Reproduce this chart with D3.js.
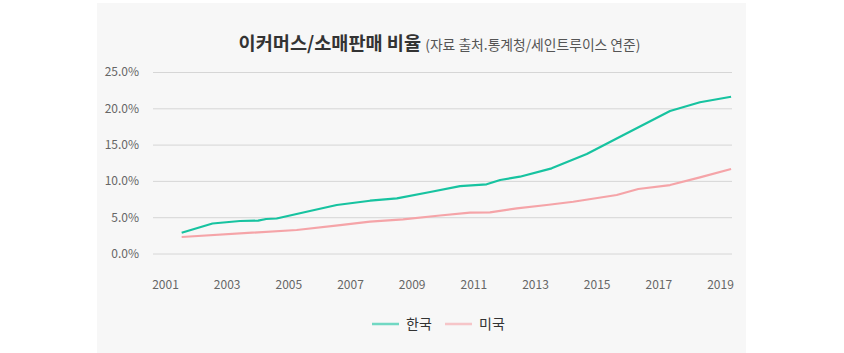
<!DOCTYPE html>
<html>
<head>
<meta charset="utf-8">
<script src="https://cdn.jsdelivr.net/npm/d3@7"></script>
<style>
  body { margin: 0; background: #fff; }
  svg text { font-family: "Noto Sans CJK KR", "Noto Sans", sans-serif; }
</style>
</head>
<body>
<div id="chart"></div>
<script>
// Chart size
const width = 844;
const height = 353;

// Data: fractional years and percent shares
const koreaYears = [2001.54, 2002.54, 2003.43, 2004.02, 2004.28, 2004.62, 2005.70, 2006.57, 2007.65, 2008.52,
  2009.60, 2010.57, 2011.43, 2011.87, 2012.51, 2013.54, 2014.68, 2015.76, 2017.38, 2018.35, 2019.36];
const koreaValues = [2.86, 4.13, 4.48, 4.52, 4.75, 4.82, 5.85, 6.68, 7.27, 7.60,
  8.47, 9.29, 9.53, 10.12, 10.58, 11.73, 13.70, 16.08, 19.62, 20.83, 21.59];
const usYears = [2001.54, 2005.27, 2006.68, 2007.65, 2008.72, 2009.92, 2010.89, 2011.54, 2012.41, 2013.38,
  2014.24, 2015.65, 2016.35, 2017.38, 2018.35, 2019.36];
const usValues = [2.27, 3.24, 3.92, 4.38, 4.71, 5.23, 5.62, 5.67, 6.22, 6.68,
  7.13, 8.06, 8.88, 9.43, 10.49, 11.64];
const yearTicks = [2001, 2003, 2005, 2007, 2009, 2011, 2013, 2015, 2017, 2019];
const percentTicks = [0, 5, 10, 15, 20, 25];
const seriesNames = ['한국', '미국'];
const seriesColors = ['#17c3a0', '#f5a4a8'];

const svg = d3.select('#chart')
  .append('svg')
  .attr('width', width)
  .attr('height', height);

// Gray panel
svg.append('rect')
  .attr('x', 97).attr('y', 3)
  .attr('width', 649).attr('height', 350)
  .attr('fill', '#f7f7f7');

// Scales
const xScale = d3.scaleLinear()
  .domain([2000.61, 2019.39])
  .range([153, 732]);

const yScale = d3.scaleLinear()
  .domain([0, 25])
  .range([253.5, 72]);

// Title
const title = svg.append('text')
  .attr('x', 439.5)
  .attr('y', 50)
  .attr('text-anchor', 'middle');
title.append('tspan')
  .attr('font-size', 18.6)
  .attr('font-weight', 'bold')
  .attr('fill', '#333')
  .text('이커머스/소매판매 비율 ');
title.append('tspan')
  .attr('font-size', 13.8)
  .attr('fill', '#555')
  .text('(자료 출처.통계청/세인트루이스 연준)');

// Y axis with gridlines
const yAxis = d3.axisLeft(yScale)
  .tickValues(percentTicks)
  .tickSize(-(732 - 153))
  .tickPadding(14)
  .tickFormat(d => d.toFixed(1) + '%');

svg.append('g')
  .attr('transform', 'translate(153,0)')
  .call(yAxis)
  .call(g => g.select('.domain').remove())
  .call(g => g.selectAll('.tick line').attr('stroke', '#d6d6d6').attr('stroke-width', 1))
  .call(g => g.selectAll('.tick text').attr('fill', '#666').attr('font-size', 12)
    .attr('font-family', '"Noto Sans CJK KR", sans-serif'));

// X axis
const xAxis = d3.axisBottom(xScale)
  .tickValues(yearTicks)
  .tickSize(0)
  .tickPadding(0)
  .tickFormat(d3.format('d'));

svg.append('g')
  .attr('transform', 'translate(0,280)')
  .call(xAxis)
  .call(g => g.select('.domain').remove())
  .call(g => g.selectAll('.tick text').attr('fill', '#666').attr('font-size', 12)
    .attr('font-family', '"Noto Sans CJK KR", sans-serif'));

// Lines
const line = d3.line()
  .x(d => xScale(d[0]))
  .y(d => yScale(d[1]));

const series = [
  d3.zip(koreaYears, koreaValues),
  d3.zip(usYears, usValues)
];

svg.selectAll('.series')
  .data(series)
  .enter()
  .append('path')
  .attr('class', 'series')
  .attr('d', line)
  .attr('fill', 'none')
  .attr('stroke', (d, i) => seriesColors[i])
  .attr('stroke-width', 2.2)
  .attr('stroke-linejoin', 'round');

// Legend
const legendX = [372, 445];
const legend = svg.selectAll('.legend')
  .data(seriesNames)
  .enter()
  .append('g')
  .attr('class', 'legend')
  .attr('transform', (d, i) => `translate(${legendX[i]},324)`);

legend.append('line')
  .attr('x1', 0).attr('x2', 27)
  .attr('stroke', (d, i) => seriesColors[i])
  .attr('stroke-opacity', 0.6)
  .attr('stroke-width', 2.5);

legend.append('text')
  .attr('x', 34)
  .attr('y', 5)
  .attr('font-size', 14)
  .attr('fill', '#333')
  .text(d => d);
</script>
</body>
</html>
